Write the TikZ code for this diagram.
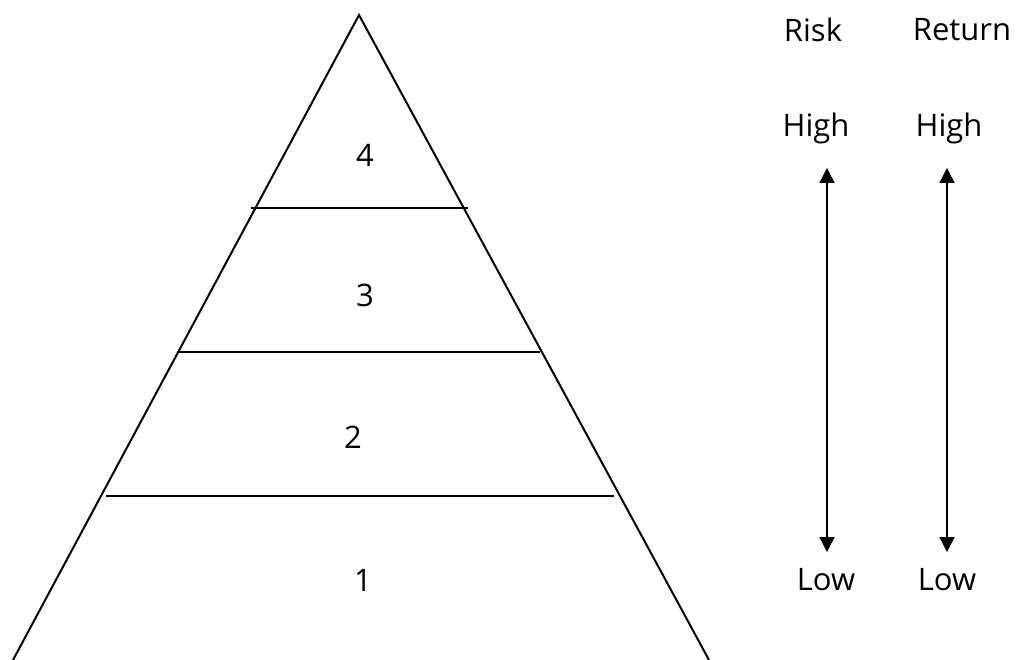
\documentclass[tikz,border=0pt]{standalone}
\usepackage{fontspec}
\setmainfont{Open Sans}
\usetikzlibrary{arrows.meta}
\begin{document}
\begin{tikzpicture}[x=1pt,y=-1pt,
  edge/.style={line width=2pt},
  lbl/.style={font=\fontsize{31}{36}\selectfont, inner sep=0pt},
  updown/.style={line width=1.5pt, {Triangle[length=15pt,width=15pt]}-{Triangle[length=15pt,width=15pt]}}]
\useasboundingbox (0,0) rectangle (1016,660);
\coordinate (apex) at (359,15);
\coordinate (bl) at (13,660);
\coordinate (br) at (709,660);
\draw[edge] (bl) -- (apex) -- (br);
\coordinate (l4a) at (251,208); \coordinate (l4b) at (468,208);
\coordinate (l3a) at (178,352); \coordinate (l3b) at (540,352);
\coordinate (l2a) at (106,496); \coordinate (l2b) at (614,496);
\draw[edge] (l4a) -- (l4b);
\draw[edge] (l3a) -- (l3b);
\draw[edge] (l2a) -- (l2b);
\node[lbl] (n4) at (365,155) {4};
\node[lbl] (n3) at (365,295) {3};
\node[lbl] (n2) at (353,437) {2};
\node[lbl] (n1) at (363,580) {1};
\node[lbl] (risk) at (813,30) {Risk};
\node[lbl] (ret) at (962,30) {Return};
\node[lbl] (hi1) at (816,128) {High};
\node[lbl] (hi2) at (949,128) {High};
\node[lbl] (lo1) at (826,580) {Low};
\node[lbl] (lo2) at (947,580) {Low};
\coordinate (a1t) at (827,168); \coordinate (a1b) at (827,552);
\coordinate (a2t) at (947,168); \coordinate (a2b) at (947,552);
\draw[updown] (a1t) -- (a1b);
\draw[updown] (a2t) -- (a2b);
\end{tikzpicture}
\end{document}
